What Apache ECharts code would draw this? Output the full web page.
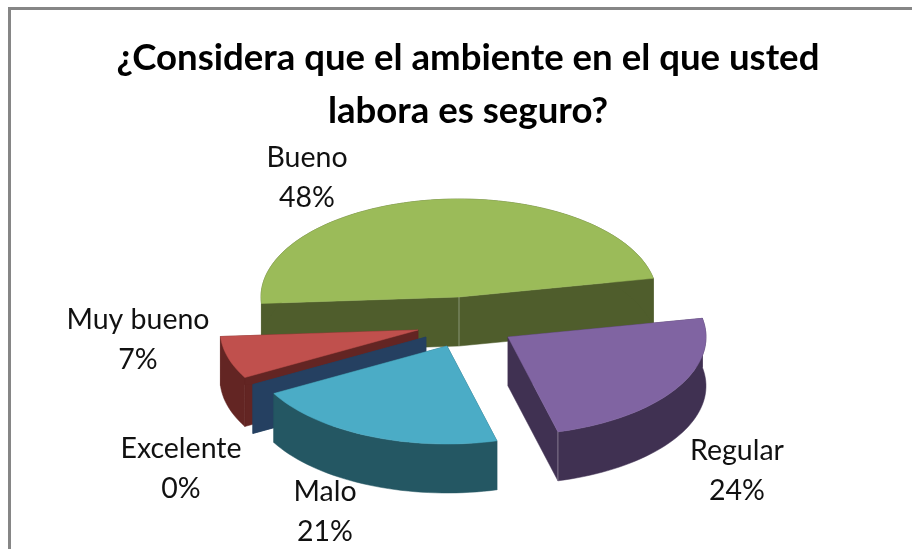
<!DOCTYPE html>
<html><head><meta charset="utf-8">
<style>html,body{margin:0;padding:0;background:#fff}#c{width:912px;height:549px}</style>
<script src="https://cdn.jsdelivr.net/npm/echarts@6/dist/echarts.min.js"></script>
</head><body><div id="c"></div>
<script>
const titleText = '¿Considera que el ambiente en el que usted\nlabora es seguro?';
const categories = ['Excelente', 'Muy bueno', 'Bueno', 'Regular', 'Malo'];
const values = [0, 7, 48, 24, 21];

// presentation only
const topColors = ['#4F81BD', '#C0504D', '#9BBB59', '#8064A2', '#4BACC6'];
const wallColors = ['#254061', '#632523', '#4F5D2C', '#403152', '#245763'];
const centers = [[426,337],[418,330],[459,297],[508,337],[447,346]];
const labelCenters = [[181,469],[138,340],[307,178],[737,471],[325,512]];
const seams = {2:'center', 3:'end'};
const drawOrder = [2,1,0,4,3];
const RX = 198, RY = 98, DEPTH = 49, START = 209;

const total = values.reduce((a,b)=>a+b,0);
const spans = []; let cur = START;
values.forEach(v => { const e = cur - v/total*360; spans.push([cur,e]); cur = e; });

function rim(c, deg, d){ const a = deg*Math.PI/180; return [c[0]+RX*Math.cos(a), c[1]-RY*Math.sin(a)+(d||0)]; }
function arc(c, s, e, d){ const n = Math.max(1, Math.ceil(Math.abs(s-e)/2)), p = [];
  for(let i=0;i<=n;i++) p.push(rim(c, s+(e-s)*i/n, d)); return p; }
function poly(points, fill){ return {type:'polygon', shape:{points}, style:{fill, stroke:fill, lineWidth:0.5}, silent:true}; }

function renderItem(params, api){
  const i = api.value(0), [s,e] = spans[i], c = centers[i], top = topColors[i], wall = wallColors[i];
  const kids = [];
  const below = [c[0], c[1]+DEPTH];
  const pS = rim(c,s), pE = rim(c,e), pSd = rim(c,s,DEPTH), pEd = rim(c,e,DEPTH);
  kids.push(poly([c,pS,pSd,below], wall));
  kids.push(poly([c,pE,pEd,below], wall));
  if (s !== e) {
    kids.push(poly(arc(c,s,e,0).concat(arc(c,e,s,DEPTH)), wall));
    kids.push(poly([c].concat(arc(c,s,e,0)), top));
  }
  if (seams[i]) {
    const a = seams[i]==='center' ? c : pE, b = seams[i]==='center' ? below : pEd;
    kids.push({type:'line', shape:{x1:a[0],y1:a[1],x2:b[0],y2:b[1]}, style:{stroke:'rgba(255,255,255,0.35)',lineWidth:1}, silent:true});
  }
  const l = labelCenters[i];
  kids.push({type:'text', x:l[0], y:l[1], silent:true, style:{
    text: categories[i]+'\n'+api.value(1)+'%', fill:'#111', align:'center', verticalAlign:'middle',
    font:'28.5px Lato, Carlito, sans-serif', lineHeight:40 }});
  return {type:'group', children:kids};
}

const chart = echarts.init(document.getElementById('c'), null, {renderer:'canvas'});
chart.setOption({
  animation:false,
  backgroundColor:'#fff',
  title:{ text:titleText, left:463, top:27, textAlign:'center',
    textStyle:{ fontFamily:'Lato, sans-serif', fontWeight:'bold', fontSize:36.6, lineHeight:53, color:'#000' } },
  graphic:[{ type:'polyline', silent:true, shape:{points:[[9.5,560],[9.5,8.5],[920,8.5]]},
    style:{ stroke:'#868686', lineWidth:3, fill:null } }],
  series:[{ type:'custom', coordinateSystem:'none', renderItem, silent:true,
    data: drawOrder.map(i => [i, values[i]]) }]
});
</script></body></html>
